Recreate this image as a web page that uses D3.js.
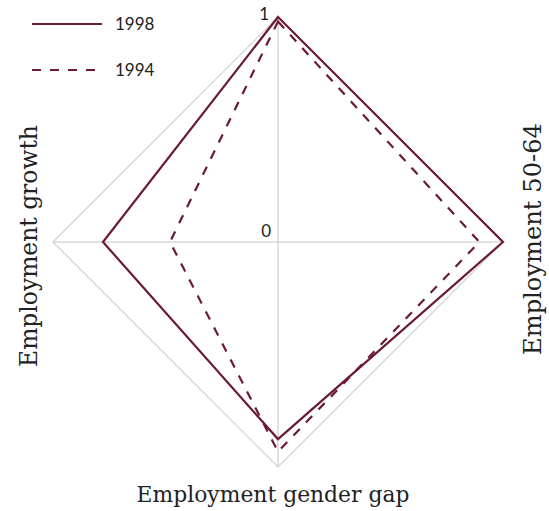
<!DOCTYPE html>
<html><head><meta charset="utf-8">
<script src="https://cdn.jsdelivr.net/npm/d3@7"></script>
<style>body{margin:0;background:#fff}svg{display:block}</style>
</head><body>
<svg id="c" width="549" height="511"></svg>
<script>
const axes = ["", "Employment 50-64", "Employment gender gap", "Employment growth"];
const seriesNames = ["1998", "1994"];
const values1998 = [1.0, 1.0, 0.876, 0.778];
const values1994 = [0.98, 0.895, 0.932, 0.48];
const tickLabels = ["0", "1"];

const svg = d3.select("#c");
const cx = 278, cy = 242, R = 225;
const r = d3.scaleLinear().domain([0, 1]).range([0, R]);
const angle = i => -Math.PI / 2 + i * Math.PI / 2;
const pt = (v, i) => [cx + r(v) * Math.cos(angle(i)), cy + r(v) * Math.sin(angle(i))];
const line = d3.line().curve(d3.curveLinearClosed);
const color = "#6a1b33";

// outer frame
svg.append("path").attr("d", line(axes.map((a, i) => pt(1, i))))
  .attr("fill", "none").attr("stroke", "#d0d0d0").attr("stroke-width", 1.2);
// axes spokes
axes.forEach((a, i) => {
  const [x, y] = pt(1, i);
  svg.append("line").attr("x1", cx).attr("y1", cy).attr("x2", x).attr("y2", y)
    .attr("stroke", "#c4c4c4").attr("stroke-width", 1);
});

// series
svg.append("path").attr("d", line(values1994.map((v, i) => pt(v, i))))
  .attr("fill", "none").attr("stroke", color).attr("stroke-width", 2.2)
  .attr("stroke-dasharray", "9,9");
svg.append("path").attr("d", line(values1998.map((v, i) => pt(v, i))))
  .attr("fill", "none").attr("stroke", color).attr("stroke-width", 2.2);

// tick labels
svg.append("text").attr("x", cx - 7).attr("y", cy - 5).attr("text-anchor", "end")
  .attr("font-family", "Lato").attr("font-size", 17).attr("fill", "#222").text(tickLabels[0]);
svg.append("text").attr("x", cx - 9).attr("y", cy - r(1) + 3).attr("text-anchor", "end")
  .attr("font-family", "Lato").attr("font-size", 17).attr("fill", "#222").text(tickLabels[1]);

// axis labels
function fitText(sel, target) {
  const w = sel.node().getComputedTextLength();
  const fs = +sel.attr("font-size");
  sel.attr("font-size", fs * target / w);
}
const lab = (t, x, y, rot, target) => {
  const s = svg.append("text").attr("font-family", "DejaVu Serif").attr("font-size", 22)
    .attr("fill", "#222").attr("text-anchor", "middle")
    .attr("transform", `translate(${x},${y}) rotate(${rot})`).text(t);
  fitText(s, target);
  return s;
};
lab(axes[3], 37, 246, -90, 242);
lab(axes[1], 541, 239, -90, 232);
lab(axes[2], 273, 502, 0, 273);

// legend
const leg = [{name: seriesNames[0], dash: null, y: 24}, {name: seriesNames[1], dash: "9,9", y: 70}];
leg.forEach(d => {
  svg.append("line").attr("x1", 32).attr("x2", 102).attr("y1", d.y).attr("y2", d.y)
    .attr("stroke", color).attr("stroke-width", 2).attr("stroke-dasharray", d.dash);
  svg.append("text").attr("x", 115).attr("y", d.y + 6).attr("font-family", "Lato")
    .attr("font-size", 17).attr("fill", "#222").text(d.name);
});
</script>
</body></html>
